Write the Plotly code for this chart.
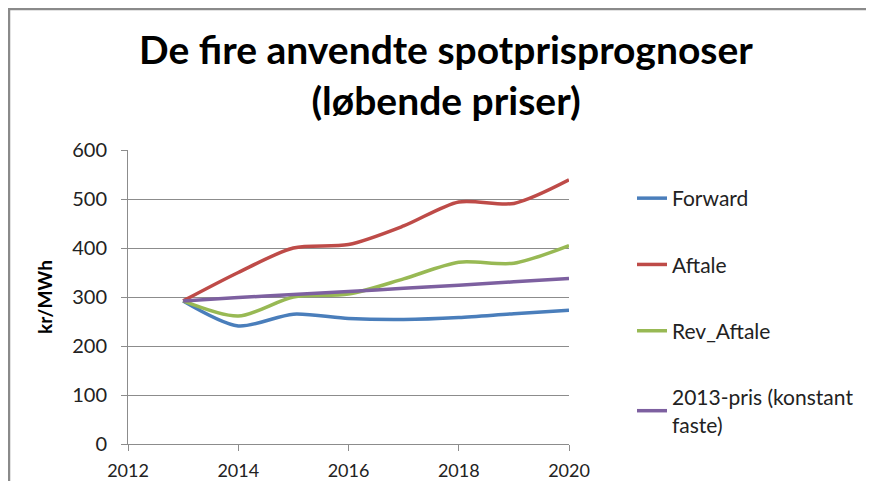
import plotly.graph_objects as go

years = [2013, 2014, 2015, 2016, 2017, 2018, 2019, 2020]
forward = [292, 241, 265, 256, 254, 258, 266, 273]
aftale = [292, 350, 400, 407, 445, 494, 491, 539]
rev_aftale = [292, 261, 300, 306, 337, 371, 369, 405]
pris2013 = [292, 299, 305, 311, 318, 324, 331, 338]

series_names = ["Forward", "Aftale", "Rev_Aftale", "2013-pris (konstant<br>faste)"]
series_values = [forward, aftale, rev_aftale, pris2013]
colors = ["#4A7EBB", "#BE4B48", "#98B954", "#7D60A0"]

x_ticks = [2012, 2014, 2016, 2018, 2020]
y_ticks = [0, 100, 200, 300, 400, 500, 600]

FONT = "Lato"

fig = go.Figure()
for i, (name, vals, col) in enumerate(zip(series_names, series_values, colors)):
    fig.add_trace(go.Scatter(
        x=years, y=vals, name=name, mode="lines",
        line=dict(color=col, width=3.5, shape="spline", smoothing=0.8),
        legendgroup=f"g{i}",
    ))

# page body offset of the browser (8px default margin on each side)
O = 8
W, H = 874 - 2 * O, 489 - 2 * O
L, T = 128 - O, 150 - O
R = W - (569 - O)
B = H - (444 - O)
pw, ph = W - L - R, H - T - B

def px_x(p):
    return (p - O - L) / pw

def px_y(p):
    return (H - B - (p - O)) / ph

fig.update_layout(
    width=W, height=H,
    margin=dict(l=L, r=R, t=T, b=B, autoexpand=False),
    paper_bgcolor="white", plot_bgcolor="white",
    font=dict(family=FONT, color="#222222"),
    title=dict(
        text="<b>De fire anvendte spotprisprognoser<br>(løbende priser)</b>",
        font=dict(family=FONT, size=39, color="black"),
        x=(446 - O) / W, xanchor="center",
        y=1 - 56 / H, yanchor="middle",
    ),
    showlegend=True,
    legend=dict(
        x=px_x(632), xanchor="left",
        y=px_y(178), yanchor="top",
        font=dict(family=FONT, size=21, color="#222222"),
        traceorder="grouped", tracegroupgap=36,
        bgcolor="rgba(0,0,0,0)",
    ),
    xaxis=dict(
        range=[2012, 2020], tickvals=x_ticks, ticktext=[str(v) for v in x_ticks],
        showgrid=False, showline=True, linecolor="#8c8c8c", linewidth=1,
        ticks="outside", ticklen=6, tickcolor="#8c8c8c",
        tickfont=dict(family=FONT, size=18, color="#222222"),
        ticklabelstandoff=4, automargin=False,
        zeroline=False, fixedrange=True,
    ),
    yaxis=dict(
        range=[0, 600], tickvals=y_ticks,
        showgrid=True, gridcolor="#8c8c8c", gridwidth=1,
        showline=True, linecolor="#8c8c8c", linewidth=1,
        ticks="outside", ticklen=6, tickcolor="#8c8c8c",
        tickfont=dict(family=FONT, size=20, color="#222222"),
        ticklabelstandoff=10, automargin=False,
        title=dict(text="<b>kr/MWh</b>", font=dict(family=FONT, size=19, color="black"), standoff=14),
        zeroline=False, fixedrange=True,
    ),
    shapes=[
        dict(type="line", xref="paper", yref="paper",
             x0=-L / pw, x1=(W + 20 - L) / pw, y0=px_y(9), y1=px_y(9),
             line=dict(color="#8a8a8a", width=2.5)),
        dict(type="line", xref="paper", yref="paper",
             x0=(1 - L) / pw, x1=(1 - L) / pw, y0=px_y(9), y1=-(B + 20) / ph,
             line=dict(color="#8a8a8a", width=2.5)),
    ],
)

fig.write_html("out.html")
